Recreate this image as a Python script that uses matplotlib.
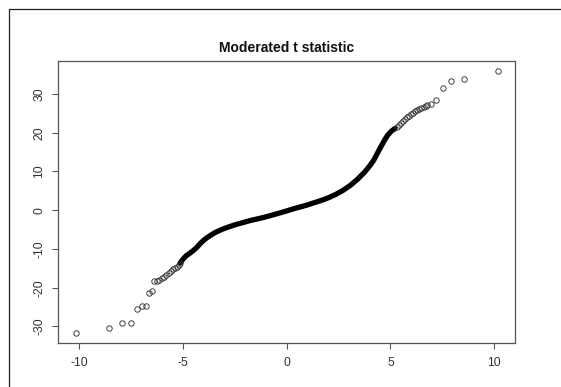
import matplotlib
matplotlib.use("Agg")
import matplotlib.pyplot as plt
from matplotlib.lines import Line2D

plt.rcParams['font.family'] = ['Liberation Sans', 'DejaVu Sans']

# ---- data (theoretical quantile x, moderated t y) ----
tail_lo_x = [-10.19, -8.57, -7.95, -7.52, -7.22, -6.98, -6.78, -6.66, -6.48, -6.38]
tail_lo_y = [-31.6, -30.3, -29.1, -29.1, -25.6, -24.8, -24.6, -21.3, -20.9, -18.4]

edge_lo_x = [-6.27, -6.14, -6.03, -5.91, -5.82, -5.70, -5.59, -5.47, -5.38, -5.30, -5.22, -5.14]
edge_lo_y = [-18.3, -17.9, -17.6, -17.2, -16.6, -16.2, -15.7, -15.2, -14.9, -14.6, -14.2, -13.6]

core_x = [-5.14, -5.00, -4.86, -4.69, -4.52, -4.34, -4.17, -4.00, -3.83, -3.66,
          -3.48, -3.31, -3.14, -2.79, -2.45, -2.10, -1.76, -1.41, -1.07, -0.72,
          -0.38, 0.00, 0.31, 0.66, 1.00, 1.34, 1.69, 2.03, 2.38, 2.72,
          3.07, 3.41, 3.76, 4.02, 4.19, 4.36, 4.53, 4.71, 4.88, 5.05, 5.22]
core_y = [-13.6, -12.6, -11.8, -11.15, -10.46, -9.61, -8.58, -7.72, -7.03, -6.43,
          -5.83, -5.40, -4.97, -4.29, -3.69, -3.17, -2.66, -2.23, -1.80, -1.29,
          -0.77, -0.17, 0.34, 0.86, 1.37, 1.97, 2.57, 3.26, 4.12, 5.15,
          6.43, 7.98, 9.86, 11.58, 12.86, 14.58, 16.30, 18.01, 19.47, 20.41, 21.10]

edge_hi_x = [5.30, 5.40, 5.50, 5.60, 5.70, 5.80, 5.90, 6.00, 6.10, 6.20,
             6.30, 6.40, 6.50, 6.60, 6.70]
edge_hi_y = [21.5, 22.0, 22.5, 23.0, 23.5, 24.0, 24.4, 24.8, 25.2, 25.5,
             25.8, 26.1, 26.4, 26.6, 26.9]

tail_hi_x = [6.78, 6.98, 7.22, 7.52, 7.93, 8.57, 10.19]
tail_hi_y = [27.1, 27.4, 28.5, 31.5, 33.4, 33.8, 35.85]

x_ticks = [-10, -5, 0, 5, 10]
y_ticks = [-30, -20, -10, 0, 10, 20, 30]
title = "Moderated t statistic"

# ---- figure ----
W, H = 561, 387
fig = plt.figure(figsize=(W / 100, H / 100), dpi=100)
left, right, top, bottom = 58.3, 515.2, 60.7, 342.7
ax = fig.add_axes([left / W, 1 - bottom / H, (right - left) / W, (bottom - top) / H])

ink = '#333333'
mk = dict(marker='o', linestyle='none', markersize=3.9, markerfacecolor='none',
          markeredgecolor=ink, markeredgewidth=0.65)

ax.plot(core_x, core_y, color='black', lw=3.8, solid_capstyle='round',
        solid_joinstyle='round')
ax.plot(edge_lo_x, edge_lo_y, **mk)
ax.plot(edge_hi_x, edge_hi_y, **mk)
ax.plot(tail_lo_x, tail_lo_y, **mk)
ax.plot(tail_hi_x, tail_hi_y, **mk)

ax.set_xlim(-11.02, 11.02)
ax.set_ylim(-34.2, 38.6)
ax.set_xticks(x_ticks)
ax.set_yticks(y_ticks)
ax.set_xticklabels([str(v) for v in x_ticks])
ax.set_yticklabels([str(v) for v in y_ticks], rotation=90, va='center')

for s in ax.spines.values():
    s.set_color('#555555')
    s.set_linewidth(0.9)
ax.tick_params(axis='both', length=4.3, width=0.8, color='#555555',
               labelsize=8.8, labelcolor='#333333')
ax.tick_params(axis='x', pad=6)
ax.tick_params(axis='y', pad=5)

fig.text((left + right) / 2 / W, 1 - 47.7 / H, title, ha='center', va='center',
         fontsize=10, fontweight='bold', color='#111111')

# outer screenshot frame (left and top edges)
fig.add_artist(Line2D([9 / W, 9 / W, 1], [0, 1 - 9.3 / H, 1 - 9.3 / H],
                      transform=fig.transFigure, color='#222222', lw=0.9))

fig.savefig('out.png', dpi=100)
